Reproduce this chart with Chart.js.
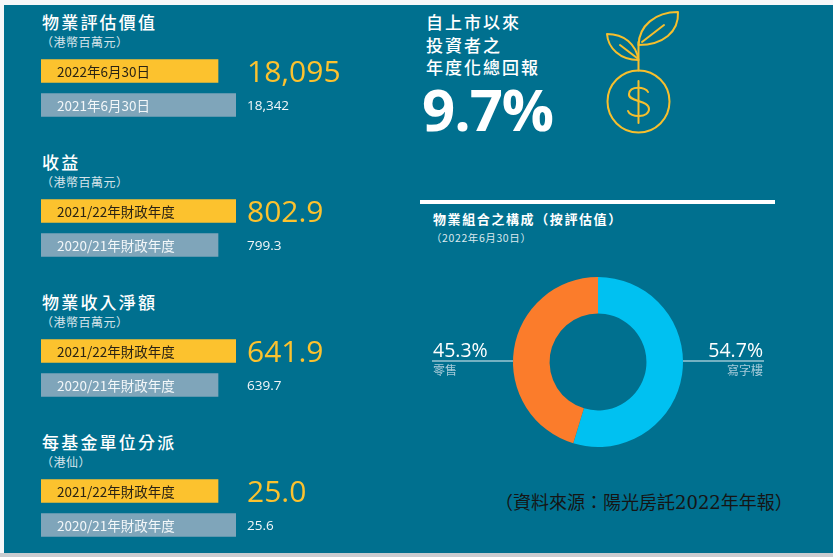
<!DOCTYPE html>
<html>
<head>
<meta charset="utf-8">
<script src="https://cdn.jsdelivr.net/npm/chart.js@4/dist/chart.umd.min.js"></script>
<style>
  body { margin: 0; width: 833px; height: 557px; background: #f6f7f9; overflow: hidden; }
  #panel { position: absolute; left: 4px; top: 5px; width: 829px; height: 548px; background: #00708f; }
  #bottom { position: absolute; left: 0; top: 553px; width: 833px; height: 4px; background: #c9ccd0; }
  .abs { position: absolute; white-space: nowrap; }
  .cjk { font-family: "Noto Sans CJK TC", "Noto Sans", sans-serif; }
  .title { font-size: 17px; line-height: 17px; font-weight: 500; color: #fff; letter-spacing: 2.2px; }
  .unit { font-size: 12px; line-height: 12px; color: #d6e4ea; letter-spacing: 0.5px; }
  .right-head { font-size: 17px; line-height: 22.5px; font-weight: 500; color: #fff; letter-spacing: 2px; }
  canvas { position: absolute; }
</style>
</head>
<body>
<div id="panel"></div>
<div id="bottom"></div>
<div id="left"></div>

<div class="abs cjk right-head" style="left:426px; top:11px;">自上市以來<br>投資者之<br>年度化總回報</div>
<div class="abs" style="left:422px; top:71px; font-family:'Open Sans',sans-serif; font-weight:700; font-size:58px; line-height:76px; color:#fff; letter-spacing:-1px;">9.7%</div>

<svg class="abs" style="left:595px; top:5px;" width="100" height="135" viewBox="595 5 100 135">
  <g fill="none" stroke="#f7bf2c" stroke-width="2" stroke-linecap="round" stroke-linejoin="round">
    <circle cx="638.5" cy="101.5" r="31"/>
    <line x1="638.5" y1="70.5" x2="638.5" y2="42"/>
    <path d="M638.5 60 C 636 44, 624 34, 607 34 C 608 48, 620 60, 638.5 60 Z"/>
    <line x1="620" y1="45" x2="637" y2="58"/>
    <path d="M638.5 45 C 639 26, 655 12, 678 12 C 679 32, 663 45, 638.5 45 Z"/>
    <line x1="642" y1="42" x2="664" y2="25"/>
    <line x1="638.5" y1="81" x2="638.5" y2="123"/>
    <path d="M648 92 C 646 87, 630 85, 629 94 C 628 102, 649 100, 649 109 C 649 118, 630 118, 628 111"/>
  </g>
</svg>

<div class="abs" style="left:420px; top:200px; width:355px; height:4px; background:#fff;"></div>
<div class="abs cjk" style="left:433px; top:210px; font-size:13px; line-height:17px; font-weight:700; color:#fff; letter-spacing:1.6px;">物業組合之構成（按評估值）</div>
<div class="abs cjk" style="left:431px; top:231px; font-size:10.5px; line-height:13px; color:#dbe8ee; letter-spacing:0.6px;">（2022年6月30日）</div>

<canvas id="mix" width="340" height="180" style="left:428px; top:272px;"></canvas>

<div class="abs" style="left:495px; top:492px; font-family:'DejaVu Serif','Noto Sans CJK TC',serif; font-size:18px; line-height:22px; color:#151515;">（資料來源：陽光房託2022年年報）</div>

<script>
// ---- data ----
const metricTitles = ["物業評估價值", "收益", "物業收入淨額", "每基金單位分派"];
const metricUnits = ["（港幣百萬元）", "（港幣百萬元）", "（港幣百萬元）", "（港仙）"];
const periodLabels = [
  ["2022年6月30日", "2021年6月30日"],
  ["2021/22年財政年度", "2020/21年財政年度"],
  ["2021/22年財政年度", "2020/21年財政年度"],
  ["2021/22年財政年度", "2020/21年財政年度"]
];
const currentValues = [18095, 802.9, 641.9, 25.0];
const previousValues = [18342, 799.3, 639.7, 25.6];
const valueDecimals = [0, 1, 1, 1];

const mixLabels = ["寫字樓", "零售"];
const mixValues = [54.7, 45.3];

// ---- style ----
const YELLOW = "#fcc22e";
const GREY = "#7fa5ba";
const SHORT_RATIO = 177 / 195;   // the shorter bar is drawn at this share of the longer one

function fmt(v, d) {
  return v.toLocaleString("en-US", { minimumFractionDigits: d, maximumFractionDigits: d });
}

// text inside the bars and the figures to their right
const barText = {
  id: "barText",
  afterDatasetsDraw(chart) {
    const { ctx, chartArea } = chart;
    const meta = chart.getDatasetMeta(0);
    const d = chart.options.plugins.barText.decimals;
    meta.data.forEach((bar, i) => {
      ctx.save();
      ctx.font = '13.5px "Noto Sans CJK TC", sans-serif';
      ctx.textBaseline = "middle";
      ctx.fillStyle = i === 0 ? "#2a2314" : "#f3f7f9";
      ctx.fillText(chart.data.labels[i], chartArea.left + 16, bar.y + 1);
      const v = fmt(chart.data.datasets[0].data[i], d);
      ctx.textBaseline = "alphabetic";
      if (i === 0) {
        ctx.font = '30px "Open Sans", sans-serif';
        ctx.fillStyle = YELLOW;
        ctx.fillText(v, chartArea.right + 11, bar.y + 11);
      } else {
        ctx.font = '13.5px "Open Sans", sans-serif';
        ctx.fillStyle = "#f3f7f9";
        ctx.fillText(v, chartArea.right + 11, bar.y + 5);
      }
      ctx.restore();
    });
  }
};

const left = document.getElementById("left");
metricTitles.forEach((t, i) => {
  const top = 140 * i;
  left.insertAdjacentHTML("beforeend",
    `<div class="abs cjk title" style="left:42px; top:${13 + top}px;">${t}</div>` +
    `<div class="abs cjk unit" style="left:41px; top:${36 + top}px;">${metricUnits[i]}</div>` +
    `<canvas id="bars${i}" width="360" height="68" style="left:41px; top:${54 + top}px;"></canvas>`);
});

metricTitles.forEach((t, i) => {
  const vals = [currentValues[i], previousValues[i]];
  const hi = Math.max(...vals), lo = Math.min(...vals);
  const floor = (lo - SHORT_RATIO * hi) / (1 - SHORT_RATIO);
  new Chart(document.getElementById("bars" + i), {
    type: "bar",
    data: {
      labels: periodLabels[i],
      datasets: [{ data: vals, backgroundColor: [YELLOW, GREY], borderWidth: 0, barThickness: 23 }]
    },
    options: {
      indexAxis: "y",
      responsive: false,
      animation: false,
      layout: { padding: { left: 0, right: 165, top: 0, bottom: 0 } },
      scales: {
        x: { display: false, min: floor, max: hi },
        y: { display: false }
      },
      plugins: { legend: { display: false }, tooltip: { enabled: false }, barText: { decimals: valueDecimals[i] } }
    },
    plugins: [barText]
  });
});

// labels either side of the doughnut
const sideLabels = {
  id: "sideLabels",
  afterDraw(chart) {
    const { ctx, chartArea, canvas } = chart;
    const arcs = chart.getDatasetMeta(0).data;
    const cy = (chartArea.top + chartArea.bottom) / 2;
    arcs.forEach((arc, i) => {
      const mid = (arc.startAngle + arc.endAngle) / 2;
      const onRight = Math.cos(mid) > 0;
      const x0 = onRight ? chartArea.right : 4;
      const x1 = onRight ? canvas.width - 4 : chartArea.left;
      const tx = onRight ? canvas.width - 5 : 5;
      ctx.save();
      ctx.strokeStyle = "#e8f1f5";
      ctx.lineWidth = 1.2;
      ctx.beginPath();
      ctx.moveTo(x0, cy - 1);
      ctx.lineTo(x1, cy - 1);
      ctx.stroke();
      ctx.textAlign = onRight ? "right" : "left";
      ctx.fillStyle = "#ffffff";
      ctx.font = '19.5px "Open Sans", sans-serif';
      ctx.textBaseline = "alphabetic";
      ctx.fillText(chart.data.datasets[0].data[i].toFixed(1) + "%", tx, cy - 5);
      ctx.fillStyle = "#a6cbd9";
      ctx.font = '12px "Noto Sans CJK TC", sans-serif';
      ctx.textBaseline = "top";
      ctx.fillText(chart.data.labels[i], tx, cy + 2);
      ctx.restore();
    });
  }
};

new Chart(document.getElementById("mix"), {
  type: "doughnut",
  data: {
    labels: mixLabels,
    datasets: [{ data: mixValues, backgroundColor: ["#00c1f1", "#fb7c2b"], borderWidth: 0 }]
  },
  options: {
    responsive: false,
    animation: false,
    cutout: "57%",
    layout: { padding: { left: 85, right: 85, top: 5, bottom: 5 } },
    plugins: { legend: { display: false }, tooltip: { enabled: false } }
  },
  plugins: [sideLabels]
});
</script>
</body>
</html>
